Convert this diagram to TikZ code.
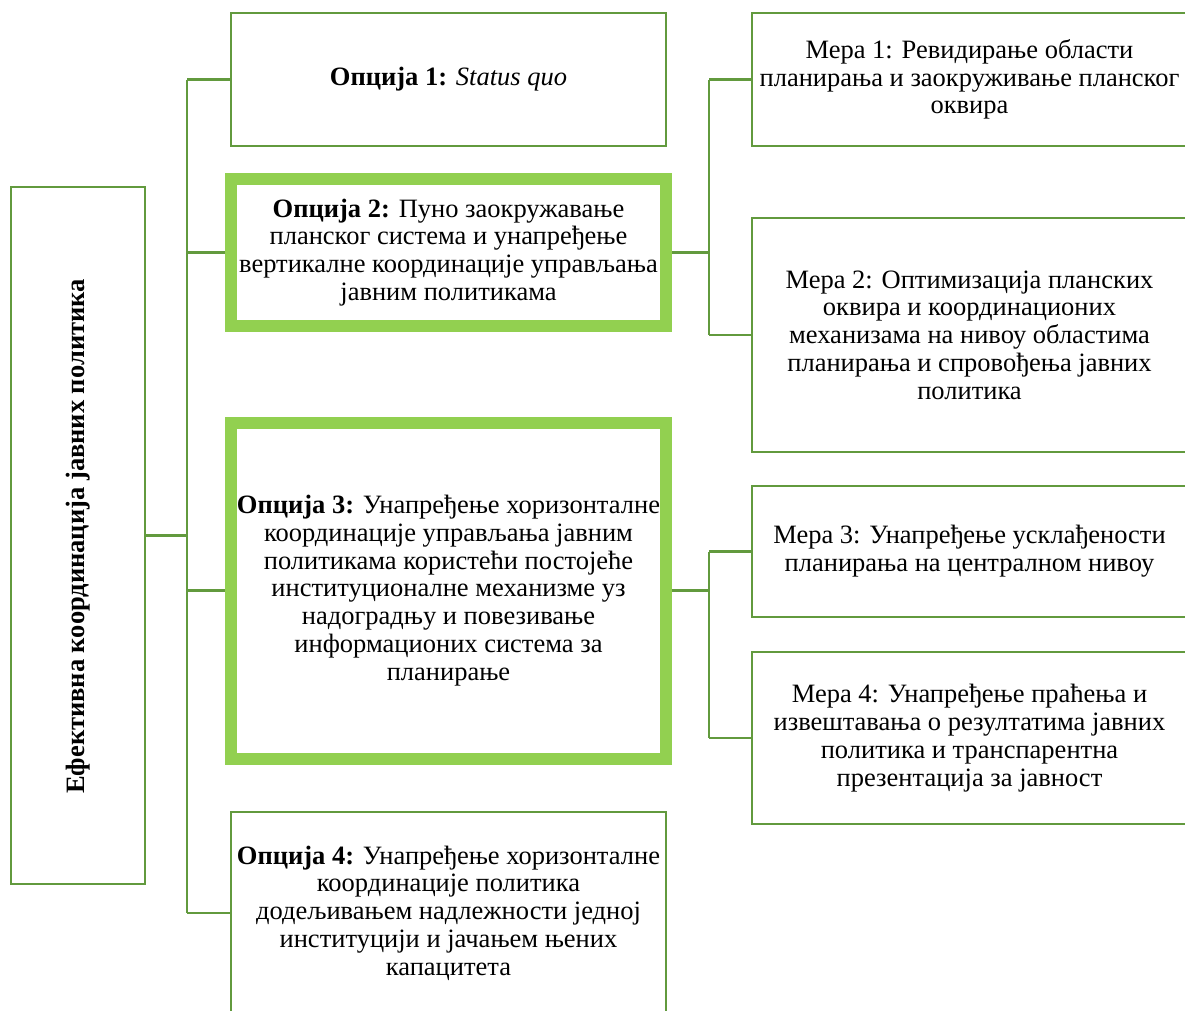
\documentclass[tikz,border=0pt]{standalone}
\usepackage{fontspec}
\setmainfont{Liberation Serif}
\definecolor{lineg}{RGB}{98,154,62}
\definecolor{thickg}{RGB}{146,208,80}
\begin{document}
\begin{tikzpicture}[x=1pt,y=-1pt,
  box/.style={draw=lineg,line width=2.2pt,rectangle,inner sep=0pt,align=center,
    font=\fontsize{26.5}{27.8}\selectfont},
  hbox/.style={box,draw=thickg,line width=12pt},
  conn/.style={draw=lineg,line width=2.2pt}]
\useasboundingbox (0,0) rectangle (1185,1010);
\clip (0,0) rectangle (1185,1010);
% left box
\node[box,minimum width=134pt,minimum height=697pt] (L) at (78,535.5) {};
\node[rotate=90,font=\fontsize{26.5}{27.8}\selectfont\bfseries] (Lt) at (78,536.5) {Ефективна координација јавних политика};
% options
\node[box,minimum width=435pt,minimum height=133pt] (O1) at (448.5,79.5) {\textbf{Опција 1:} \textit{Status quo}};
\node[hbox,minimum width=435pt,minimum height=147pt] (O2) at (448.5,252.5) {\textbf{Опција 2:} Пуно заокружавање\\планског система и унапређење\\вертикалне координације управљања\\јавним политикама};
\node[hbox,minimum width=435pt,minimum height=336pt] (O3) at (448.5,590.5) {\textbf{Опција 3:} Унапређење хоризонталне\\координације управљања јавним\\политикама користећи постојеће\\институционалне механизме уз\\надоградњу и повезивање\\информационих система за\\планирање};
\node[box,minimum width=435pt,minimum height=202pt] (O4) at (448.5,913) {\textbf{Опција 4:} Унапређење хоризонталне\\координације политика\\додељивањем надлежности једној\\институцији и јачањем њених\\капацитета};
% measures
\node[box,minimum width=435pt,minimum height=133pt] (M1) at (969.5,79.5) {Мера 1: Ревидирање области\\планирања и заокруживање планског\\оквира};
\node[box,minimum width=435pt,minimum height=234pt] (M2) at (969.5,335) {Мера 2: Оптимизација планских\\оквира и координационих\\механизама на нивоу областима\\планирања и спровођења јавних\\политика};
\node[box,minimum width=435pt,minimum height=131pt] (M3) at (969.5,551.5) {Мера 3: Унапређење усклађености\\планирања на централном нивоу};
\node[box,minimum width=435pt,minimum height=172pt] (M4) at (969.5,738) {Мера 4: Унапређење праћења и\\извештавања о резултатима јавних\\политика и транспарентна\\презентација за јавност};
% connectors
\coordinate (tr) at (187,0);
\coordinate (br) at (709,0);
\draw[conn] (L.east) -- (L.east -| tr);
\draw[conn] (tr |- O1.west) -- (tr |- O4.west);
\draw[conn] (tr |- O1.west) -- (O1.west);
\draw[conn] (tr |- O2.west) -- (O2.west);
\draw[conn] (tr |- O3.west) -- (O3.west);
\draw[conn] (tr |- O4.west) -- (O4.west);
\draw[conn] (O2.east) -- (O2.east -| br);
\draw[conn] (br |- M1.west) -- (br |- M2.west);
\draw[conn] (br |- M1.west) -- (M1.west);
\draw[conn] (br |- M2.west) -- (M2.west);
\draw[conn] (O3.east) -- (O3.east -| br);
\draw[conn] (br |- M3.west) -- (br |- M4.west);
\draw[conn] (br |- M3.west) -- (M3.west);
\draw[conn] (br |- M4.west) -- (M4.west);
\end{tikzpicture}
\end{document}
